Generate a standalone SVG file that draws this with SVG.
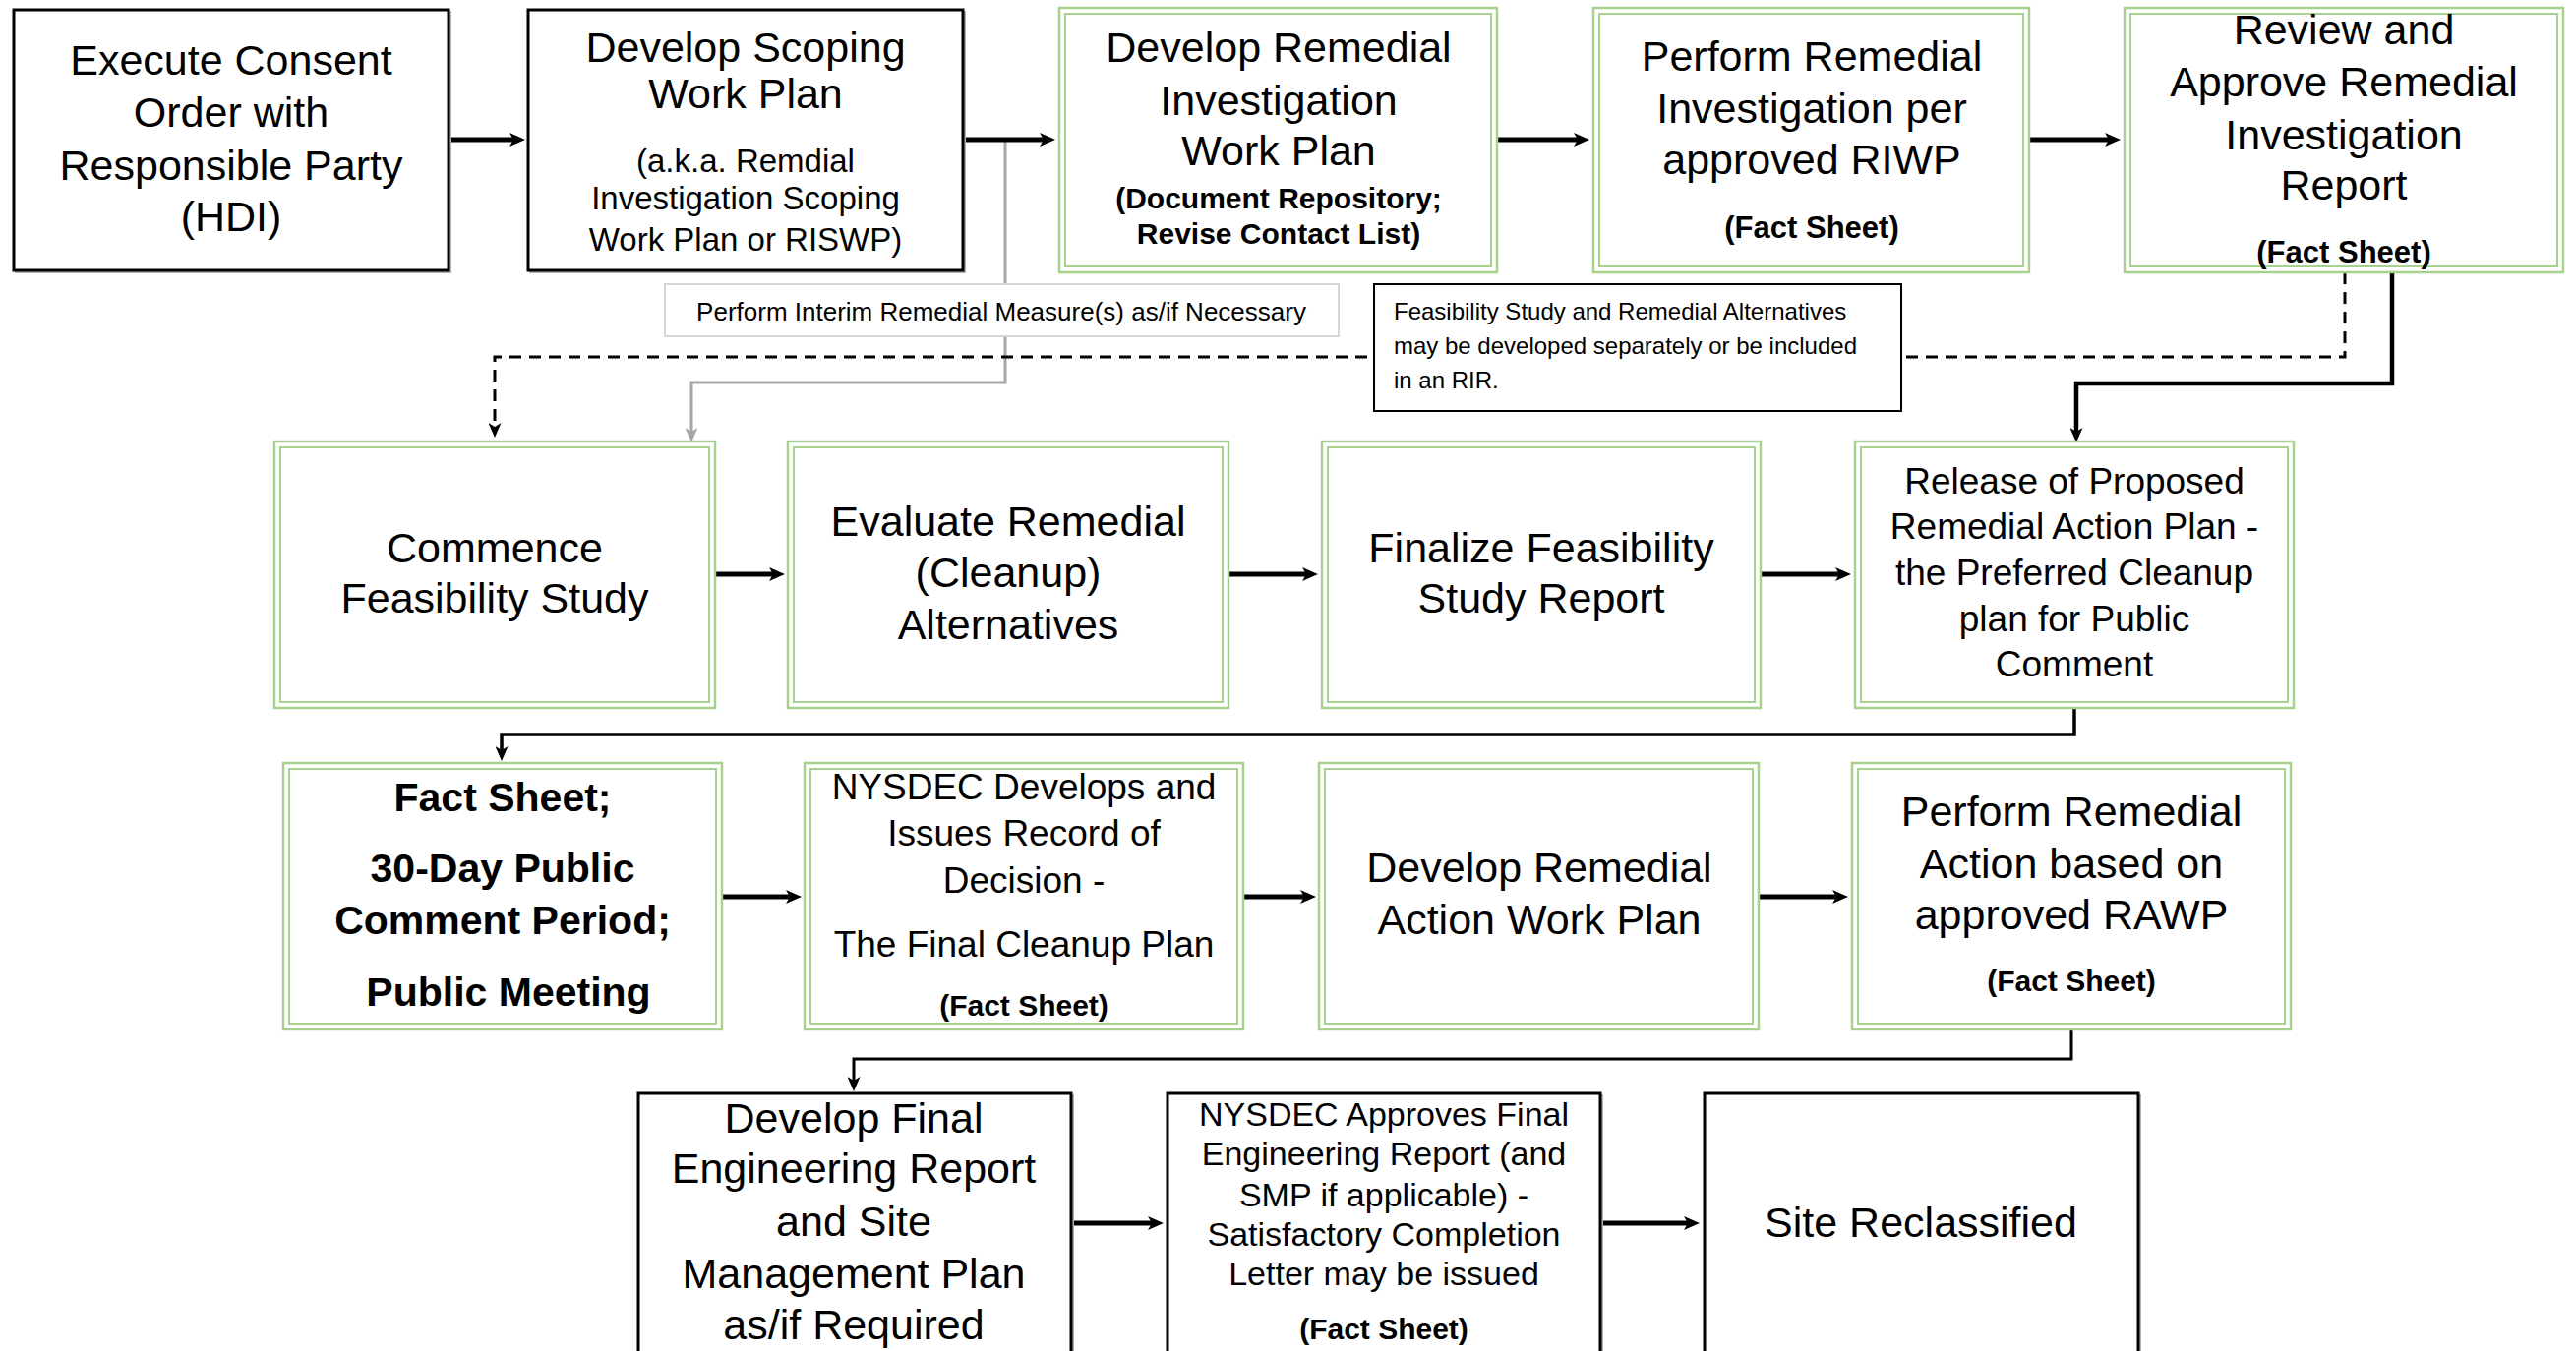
<svg xmlns="http://www.w3.org/2000/svg" width="2619" height="1374" viewBox="0 0 2619 1374">
<defs>
<style>
.bx{fill:#fff;stroke:#000;stroke-width:3}
.sh{fill:none;stroke:#b0b0b0;stroke-width:2}
.go{fill:#fff;stroke:#A9D18E;stroke-width:2.5}
.gi{fill:none;stroke:#A9D18E;stroke-width:2}
text{font-family:"Liberation Sans",Arial,sans-serif;fill:#000;text-anchor:middle}
.t{font-size:43px}
.m{font-size:37px}
.s{font-size:34px}
.p{font-size:33px}
.b{font-weight:bold;font-size:31px}
.bb{font-weight:bold;font-size:41px}
.ln{fill:none;stroke:#000}
.thick{stroke-width:5}
</style>
<marker id="ah" markerUnits="userSpaceOnUse" viewBox="0 0 16 14" refX="4" refY="7" markerWidth="16" markerHeight="14" orient="auto">
<path d="M0,0 L16,7 L0,14 L4,7 z" fill="#000"/>
</marker>
<marker id="ahs" markerUnits="userSpaceOnUse" viewBox="0 0 15 13" refX="4" refY="6.5" markerWidth="15" markerHeight="13" orient="auto">
<path d="M0,0 L15,6.5 L0,13 L4,6.5 z" fill="#000"/>
</marker>
<marker id="ahg" markerUnits="userSpaceOnUse" viewBox="0 0 15 13" refX="4" refY="6.5" markerWidth="15" markerHeight="13" orient="auto">
<path d="M0,0 L15,6.5 L0,13 L4,6.5 z" fill="#A6A6A6"/>
</marker>
</defs>
<rect width="2619" height="1374" fill="#fff"/>

<g id="connectors">
<path d="M1022,142 V389 H703 V439" fill="none" stroke="#A6A6A6" stroke-width="3" marker-end="url(#ahg)"/>
<path d="M2384,277 V363 H503 V434" class="ln" stroke-width="3" stroke-dasharray="12 8" marker-end="url(#ahs)"/>
<path d="M2432,277 V390 H2111 V439" class="ln" stroke-width="4.5" marker-end="url(#ahs)"/>
<path d="M2109,720 V747 H510 V763" class="ln" stroke-width="3.5" marker-end="url(#ahs)"/>
<path d="M2106,1047 V1077 H868 V1099" class="ln" stroke-width="3" marker-end="url(#ahs)"/>
<line x1="457" y1="142" x2="522" y2="142" class="ln thick" marker-end="url(#ah)"/>
<line x1="980" y1="142" x2="1061" y2="142" class="ln thick" marker-end="url(#ah)"/>
<line x1="1523" y1="142" x2="1604" y2="142" class="ln thick" marker-end="url(#ah)"/>
<line x1="2064" y1="142" x2="2144" y2="142" class="ln thick" marker-end="url(#ah)"/>
<line x1="728" y1="584" x2="786" y2="584" class="ln thick" marker-end="url(#ah)"/>
<line x1="1250" y1="584" x2="1328" y2="584" class="ln thick" marker-end="url(#ah)"/>
<line x1="1791" y1="584" x2="1870" y2="584" class="ln thick" marker-end="url(#ah)"/>
<line x1="735" y1="912" x2="803" y2="912" class="ln thick" marker-end="url(#ah)"/>
<line x1="1265" y1="912" x2="1326" y2="912" class="ln thick" marker-end="url(#ah)"/>
<line x1="1789" y1="912" x2="1867" y2="912" class="ln thick" marker-end="url(#ah)"/>
<line x1="1090" y1="1244" x2="1171" y2="1244" class="ln thick" marker-end="url(#ah)"/>
<line x1="1628" y1="1244" x2="1716" y2="1244" class="ln thick" marker-end="url(#ah)"/>
</g>

<g id="label-interim">
<rect x="676" y="289" width="685" height="53" fill="#fff" stroke="#D6D6D6" stroke-width="2"/>
<text x="1018" y="326" style="font-size:26px">Perform Interim Remedial Measure(s) as/if Necessary</text>
</g>
<g id="note-fs">
<rect x="1397" y="289" width="536" height="129" fill="#fff" stroke="#000" stroke-width="2"/>
<text x="1417" y="325" style="font-size:24px;text-anchor:start">Feasibility Study and Remedial Alternatives</text>
<text x="1417" y="360" style="font-size:24px;text-anchor:start">may be developed separately or be included</text>
<text x="1417" y="395" style="font-size:24px;text-anchor:start">in an RIR.</text>
</g>

<g id="n1">
<rect x="16" y="12" width="442" height="265" class="sh"/>
<rect x="14" y="10" width="442" height="265" class="bx"/>
<text class="t" x="235" y="76">Execute Consent</text>
<text class="t" x="235" y="129">Order with</text>
<text class="t" x="235" y="183">Responsible Party</text>
<text class="t" x="235" y="235">(HDI)</text>
</g>
<g id="n2">
<rect x="539" y="12" width="442" height="265" class="sh"/>
<rect x="537" y="10" width="442" height="265" class="bx"/>
<text class="t" x="758" y="63">Develop Scoping</text>
<text class="t" x="758" y="110">Work Plan</text>
<text class="p" x="758" y="175">(a.k.a. Remdial</text>
<text class="p" x="758" y="213">Investigation Scoping</text>
<text class="p" x="758" y="255">Work Plan or RISWP)</text>
</g>
<g id="n3">
<rect x="1077" y="8" width="445" height="269" class="go"/>
<rect x="1083" y="14" width="433" height="257" class="gi"/>
<text class="t" x="1300" y="63">Develop Remedial</text>
<text class="t" x="1300" y="117">Investigation</text>
<text class="t" x="1300" y="168">Work Plan</text>
<text class="b" x="1300" y="212" style="font-size:30px">(Document Repository;</text>
<text class="b" x="1300" y="248" style="font-size:30px">Revise Contact List)</text>
</g>
<g id="n4">
<rect x="1620" y="8" width="443" height="269" class="go"/>
<rect x="1626" y="14" width="431" height="257" class="gi"/>
<text class="t" x="1842" y="72">Perform Remedial</text>
<text class="t" x="1842" y="125">Investigation per</text>
<text class="t" x="1842" y="177">approved RIWP</text>
<text class="b" x="1842" y="242">(Fact Sheet)</text>
</g>
<g id="n5">
<rect x="2160" y="8" width="446" height="269" class="go"/>
<rect x="2166" y="14" width="434" height="257" class="gi"/>
<text class="t" x="2383" y="45">Review and</text>
<text class="t" x="2383" y="98">Approve Remedial</text>
<text class="t" x="2383" y="152">Investigation</text>
<text class="t" x="2383" y="203">Report</text>
<text class="b" x="2383" y="267">(Fact Sheet)</text>
</g>

<g id="n6">
<rect x="279" y="449" width="448" height="271" class="go"/>
<rect x="285" y="455" width="436" height="259" class="gi"/>
<text class="t" x="503" y="572">Commence</text>
<text class="t" x="503" y="623">Feasibility Study</text>
</g>
<g id="n7">
<rect x="801" y="449" width="448" height="271" class="go"/>
<rect x="807" y="455" width="436" height="259" class="gi"/>
<text class="t" x="1025" y="545">Evaluate Remedial</text>
<text class="t" x="1025" y="597">(Cleanup)</text>
<text class="t" x="1025" y="650">Alternatives</text>
</g>
<g id="n8">
<rect x="1344" y="449" width="446" height="271" class="go"/>
<rect x="1350" y="455" width="434" height="259" class="gi"/>
<text class="t" x="1567" y="572">Finalize Feasibility</text>
<text class="t" x="1567" y="623">Study Report</text>
</g>
<g id="n9">
<rect x="1886" y="449" width="446" height="271" class="go"/>
<rect x="1892" y="455" width="434" height="259" class="gi"/>
<text class="m" x="2109" y="502">Release of Proposed</text>
<text class="m" x="2109" y="548">Remedial Action Plan -</text>
<text class="m" x="2109" y="595">the Preferred Cleanup</text>
<text class="m" x="2109" y="642">plan for Public</text>
<text class="m" x="2109" y="688">Comment</text>
</g>

<g id="n10">
<rect x="288" y="776" width="446" height="271" class="go"/>
<rect x="294" y="782" width="434" height="259" class="gi"/>
<text class="bb" x="511" y="825">Fact Sheet;</text>
<text class="bb" x="511" y="897">30-Day Public</text>
<text class="bb" x="511" y="950">Comment Period;</text>
<text class="bb" x="517" y="1023">Public Meeting</text>
</g>
<g id="n11">
<rect x="818" y="776" width="446" height="271" class="go"/>
<rect x="824" y="782" width="434" height="259" class="gi"/>
<text class="m" x="1041" y="813">NYSDEC Develops and</text>
<text class="m" x="1041" y="860">Issues Record of</text>
<text class="m" x="1041" y="908">Decision -</text>
<text class="m" x="1041" y="973">The Final Cleanup Plan</text>
<text class="b" x="1041" y="1033" style="font-size:30px">(Fact Sheet)</text>
</g>
<g id="n12">
<rect x="1341" y="776" width="447" height="271" class="go"/>
<rect x="1347" y="782" width="435" height="259" class="gi"/>
<text class="t" x="1565" y="897">Develop Remedial</text>
<text class="t" x="1565" y="950">Action Work Plan</text>
</g>
<g id="n13">
<rect x="1883" y="776" width="446" height="271" class="go"/>
<rect x="1889" y="782" width="434" height="259" class="gi"/>
<text class="t" x="2106" y="840">Perform Remedial</text>
<text class="t" x="2106" y="893">Action based on</text>
<text class="t" x="2106" y="945">approved RAWP</text>
<text class="b" x="2106" y="1008" style="font-size:30px">(Fact Sheet)</text>
</g>

<g id="n14">
<rect x="651" y="1114" width="440" height="280" class="sh"/>
<rect x="649" y="1112" width="440" height="280" class="bx"/>
<text class="t" x="868" y="1152">Develop Final</text>
<text class="t" x="868" y="1203">Engineering Report</text>
<text class="t" x="868" y="1257">and Site</text>
<text class="t" x="868" y="1310">Management Plan</text>
<text class="t" x="868" y="1362">as/if Required</text>
</g>
<g id="n15">
<rect x="1189" y="1114" width="440" height="280" class="sh"/>
<rect x="1187" y="1112" width="440" height="280" class="bx"/>
<text class="s" x="1407" y="1145">NYSDEC Approves Final</text>
<text class="s" x="1407" y="1185">Engineering Report (and</text>
<text class="s" x="1407" y="1227">SMP if applicable) -</text>
<text class="s" x="1407" y="1267">Satisfactory Completion</text>
<text class="s" x="1407" y="1307">Letter may be issued</text>
<text class="b" x="1407" y="1362" style="font-size:30px">(Fact Sheet)</text>
</g>
<g id="n16">
<rect x="1735" y="1114" width="441" height="280" class="sh"/>
<rect x="1733" y="1112" width="441" height="280" class="bx"/>
<text class="t" x="1953" y="1258">Site Reclassified</text>
</g>
</svg>
